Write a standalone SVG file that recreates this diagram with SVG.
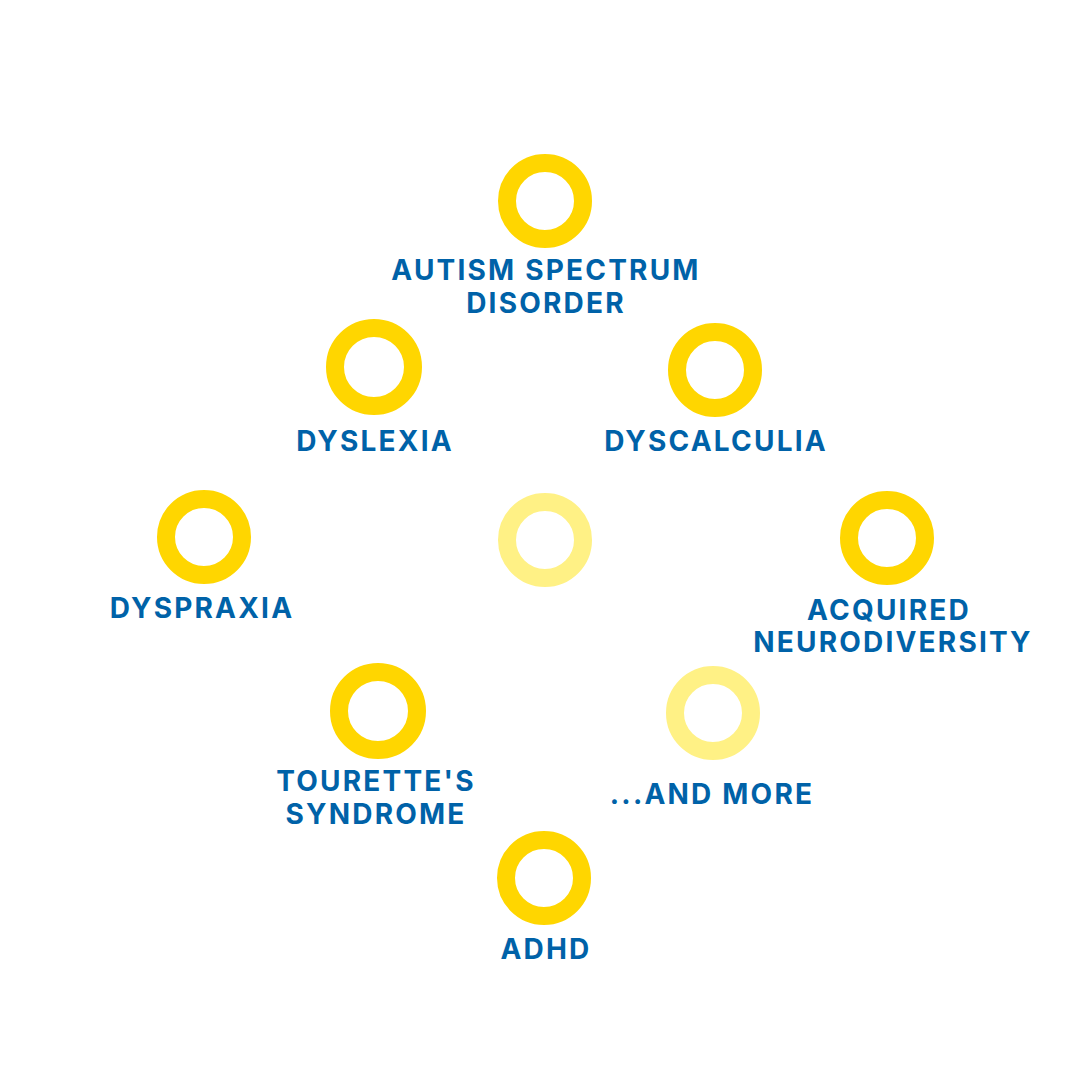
<svg xmlns="http://www.w3.org/2000/svg" width="1080" height="1080" viewBox="0 0 1080 1080">
<style>
.ring{fill:none;stroke:#FFD600;stroke-width:18}
.ring.light{stroke:#FFF185}
.lbl{font-family:Inter,"Open Sans","Liberation Sans",sans-serif;font-weight:700;font-size:28px;letter-spacing:2.2px;fill:#0062A8;text-anchor:middle}
</style>
<rect width="1080" height="1080" fill="#FFFFFF"/>
<g id="connectors"></g>
<g id="autism"><circle class="ring" cx="545" cy="201" r="38"/><text class="lbl" x="546" y="280">AUTISM SPECTRUM</text><text class="lbl" x="546" y="313">DISORDER</text></g>
<g id="dyslexia"><circle class="ring" cx="374" cy="367" r="39"/><text class="lbl" x="375" y="451">DYSLEXIA</text></g>
<g id="dyscalculia"><circle class="ring" cx="715" cy="370" r="38"/><text class="lbl" x="716" y="451">DYSCALCULIA</text></g>
<g id="dyspraxia"><circle class="ring" cx="204" cy="537" r="38"/><text class="lbl" x="202" y="618">DYSPRAXIA</text></g>
<g id="center"><circle class="ring light" cx="545" cy="540" r="38"/></g>
<g id="acquired"><circle class="ring" cx="887" cy="538" r="38"/><text class="lbl" x="889" y="620">ACQUIRED</text><text class="lbl" x="893" y="652">NEURODIVERSITY</text></g>
<g id="tourette"><circle class="ring" cx="378" cy="711" r="39"/><text class="lbl" x="376" y="791">TOURETTE'S</text><text class="lbl" x="376" y="824">SYNDROME</text></g>
<g id="more"><circle class="ring light" cx="713" cy="713" r="38"/><text class="lbl" x="712" y="804">...AND MORE</text></g>
<g id="adhd"><circle class="ring" cx="544" cy="878" r="38"/><text class="lbl" x="546" y="959">ADHD</text></g>
</svg>
